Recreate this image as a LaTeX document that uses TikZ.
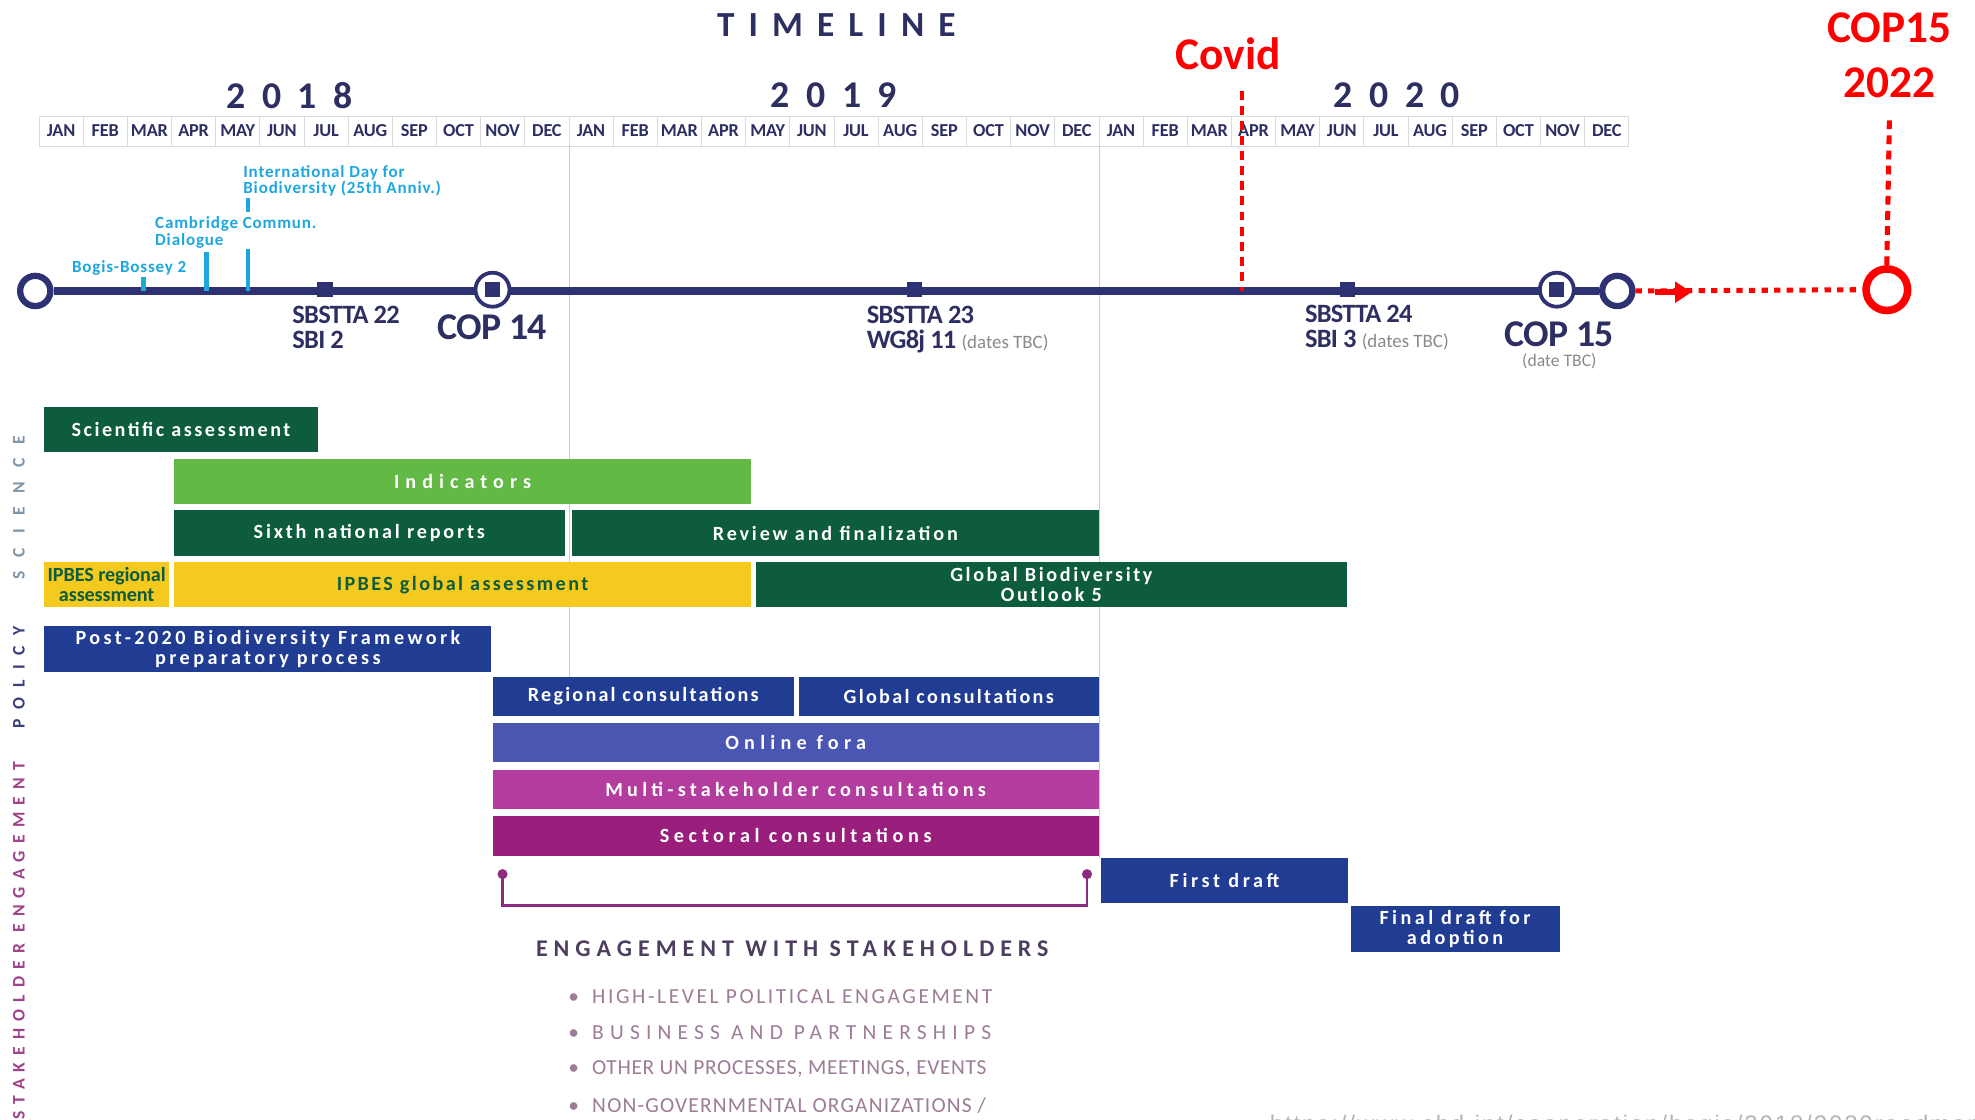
\documentclass[tikz,border=0pt]{standalone}
\usepackage{fontspec}
\setmainfont{Carlito}
\newfontfamily\urlfont{Liberation Sans}
\usetikzlibrary{arrows.meta}

\definecolor{navy}{HTML}{2E3272}
\definecolor{navytext}{HTML}{2D2F62}
\definecolor{cyanc}{HTML}{1EA7DE}
\definecolor{dgreen}{HTML}{0D5C3E}
\definecolor{lgreen}{HTML}{62B946}
\definecolor{yel}{HTML}{F4CA1E}
\definecolor{bblue}{HTML}{213C93}
\definecolor{fora}{HTML}{4B56B2}
\definecolor{multi}{HTML}{B33C9F}
\definecolor{sect}{HTML}{9A1F7C}
\definecolor{brk}{HTML}{8B2C80}
\definecolor{tealc}{HTML}{A8D8DB}
\definecolor{gridc}{HTML}{DADADA}
\definecolor{engh}{HTML}{4D3D5E}
\definecolor{bulletc}{HTML}{9C7C96}
\definecolor{scic}{HTML}{8095A8}
\definecolor{polc}{HTML}{3B3F7C}
\definecolor{stkc}{HTML}{A0418C}
\definecolor{redc}{HTML}{FF0000}
\definecolor{tbc}{HTML}{8A8A8A}
\definecolor{urlc}{HTML}{B5B5B5}

\newcommand\fsz[3]{\fontsize{#1}{#2}\selectfont\addfontfeatures{LetterSpace=#3}}
\newcommand\tlbox[7]{%
  \node[boxbase,#6,anchor=north west,minimum width={(#4-#2)*1pt},minimum height={(#5-#3)*1pt}] (#1) at (#2,#3) {#7};}

\tikzset{
  boxbase/.style={rectangle,inner sep=0pt,align=center,text=white,font=\bfseries\fsz{16}{16}{13}},
  ls/.style={font=\bfseries\fsz{16}{16}{#1}},
  dg/.style={fill=dgreen},
  lg/.style={fill=lgreen},
  yl/.style={fill=yel,text=dgreen},
  bb/.style={fill=bblue},
  fo/.style={fill=fora},
  mu/.style={fill=multi},
  se/.style={fill=sect},
  monthcell/.style={rectangle,draw=gridc,line width=0.6pt,minimum width=35.06pt,minimum height=24pt,inner sep=0pt,text=navytext,font=\bfseries\fsz{14.5}{14}{-1}},
  ring/.style={circle,draw=navy,line width=5pt,fill=white,minimum size=24pt,inner sep=0pt},
  cop/.style={circle,draw=navy,line width=3pt,fill=white,minimum size=27pt,inner sep=0pt},
  sq/.style={rectangle,fill=navy,minimum size=12pt,inner sep=0pt},
  tick/.style={cyanc,line width=3.5pt},
  cyanlab/.style={text=cyanc,inner sep=0pt,align=left,font=\bfseries\fsz{13.5}{13}{5}},
  evlab/.style={text=navytext,inner sep=0pt,align=left,font=\bfseries\fsz{21}{20}{-3}},
  coplab/.style={text=navytext,inner sep=0pt,font=\bfseries\fsz{30}{30}{-2}},
  redlab/.style={text=redc,inner sep=0pt,align=center,font=\bfseries\fsz{36}{44}{0}},
  reddot/.style={redc,line width=4pt,dash pattern=on 7pt off 5pt},
  vlab/.style={rotate=90,inner sep=0pt,font=\bfseries\fsz{14}{14}{#1}},
  bullet/.style={anchor=west,inner sep=0pt,text=bulletc,font=\fsz{17}{17}{#1}},
}
\newcommand\tbcf{\color{tbc}\mdseries\fsz{15}{15}{0}}
\newcommand\bul{\makebox[19pt][l]{\textbullet}}

\begin{document}
\begin{tikzpicture}[x=1pt,y=-1pt]
\useasboundingbox[fill=white] (0,0) rectangle (1568,889);

% title and years
\node[text=navytext,font=\bfseries\fsz{28}{28}{40}] (title) at (664,20) {TIMELINE};
\node[text=navytext,font=\bfseries\fsz{30}{30}{44}] (y18) at (230,76) {2018};
\node[text=navytext,font=\bfseries\fsz{30}{30}{44}] (y19) at (662,76) {2019};
\node[text=navytext,font=\bfseries\fsz{30}{30}{44}] (y20) at (1109,76) {2020};

% month grid
\foreach \m [count=\i] in {JAN,FEB,MAR,APR,MAY,JUN,JUL,AUG,SEP,OCT,NOV,DEC,JAN,FEB,MAR,APR,MAY,JUN,JUL,AUG,SEP,OCT,NOV,DEC,JAN,FEB,MAR,APR,MAY,JUN,JUL,AUG,SEP,OCT,NOV,DEC}
  \node[monthcell] (m\i) at ({31+(\i-0.5)*35.06},104) {\m};

% year dividers
\draw[tealc,line width=1.2pt] (m12.south east) -- ++(0,421);
\draw[tealc,line width=1.2pt] (m24.south east) -- ++(0,565);

% main timeline
\node[ring] (start) at (28,231) {};
\node[ring] (end) at (1284,231) {};
\draw[navy,line width=6.5pt] (start) -- (end);

% cyan events
\coordinate (bb) at (114,231);
\coordinate (cb) at (164,231);
\coordinate (id) at (197,231);
\coordinate (idu) at (197,157);
\draw[tick] (bb) -- ++(0,-11);
\draw[tick] (cb) -- ++(0,-31);
\draw[tick] (id) -- ++(0,-33);
\draw[tick] (idu) -- ++(0,11);
\node[cyanlab,anchor=west] (bbl) at (57,213) {Bogis-Bossey 2};
\node[cyanlab,anchor=north west] (cbl) at (123,172) {Cambridge Commun.\\Dialogue};
\node[cyanlab,anchor=north west] (idl) at (193,131) {International Day for\\Biodiversity (25th Anniv.)};

% meetings
\node[sq] (s22) at (258,230) {};
\node[sq] (s23) at (726,230) {};
\node[sq] (s24) at (1070,230) {};
\node[cop] (cop14) at (391,230) {};
\node[sq] (cop14s) at (cop14) {};
\node[cop] (cop15) at (1236,230) {};
\node[sq] (cop15s) at (cop15) {};

\node[evlab,anchor=north west] (l22) at (232,243) {SBSTTA 22\\SBI 2};
\node[evlab,anchor=north west] (l23) at (688,243) {SBSTTA 23\\WG8j 11 {\tbcf (dates TBC)}};
\node[evlab,anchor=north west] (l24) at (1036,242) {SBSTTA 24\\SBI 3 {\tbcf (dates TBC)}};
\node[coplab] (lc14) at (391,260) {COP 14};
\node[coplab] (lc15) at (1238,265) {COP 15};
\node[text=tbc,inner sep=0pt,font=\fsz{14}{14}{0}] (lc15d) at (1238,287) {(date TBC)};

% red annotations
\node[circle,draw=redc,line width=6pt,fill=white,minimum size=33pt,inner sep=0pt] (cop22) at (1498,230) {};
\draw[reddot,dash pattern=on 5pt off 5pt] (end.east) -- (cop22.west);
\coordinate (ra1) at (1314,232);
\coordinate (ra2) at (1343,232);
\draw[redc,line width=4.5pt,-{Triangle[length=13pt,width=16pt]}] (ra1) -- (ra2);
\coordinate (c22top) at (1500,95);
\draw[reddot] (cop22.north) -- (c22top);
\coordinate (cv1) at (986,72);
\coordinate (cv2) at (986,231);
\draw[reddot,line width=3.5pt] (cv1) -- (cv2);
\node[redlab] (covid) at (975,43) {Covid};
\node[redlab] (cop22l) at (1500,44) {COP15\\2022};

% science
\tlbox{sci}{35}{323}{252}{359}{dg,ls=12.5}{Scientific assessment}
\tlbox{ind}{138}{364}{596}{400}{lg,ls=30}{Indicators}
\tlbox{snr}{138}{405}{448}{441}{dg,ls=14}{Sixth national reports}
\tlbox{rev}{454}{405}{872}{441}{dg,ls=14}{Review and finalization}
\tlbox{ipr}{35}{446}{134}{482}{yl,ls=-0.5}{IPBES regional\\assessment}
\tlbox{ipg}{138}{446}{596}{482}{yl,ls=12}{IPBES global assessment}
\tlbox{gbo}{600}{446}{1069}{482}{dg,ls=13}{Global Biodiversity\\Outlook 5}
% policy
\tlbox{post}{35}{497}{390}{533}{bb,ls=17}{Post-2020 Biodiversity Framework\\preparatory process}
\tlbox{reg}{391}{537}{630}{568}{bb,ls=11}{Regional consultations}
\tlbox{glo}{634}{537}{872}{568}{bb,ls=11.5}{Global consultations}
\tlbox{onl}{391}{574}{872}{605}{fo,ls=26}{Online fora}
\tlbox{msc}{391}{611}{872}{642}{mu,ls=21}{Multi-stakeholder consultations}
\tlbox{sec}{391}{648}{872}{679}{se,ls=23}{Sectoral consultations}
\tlbox{fd}{874}{681}{1070}{717}{bb,ls=18}{First draft}
\tlbox{fin}{1072}{719}{1238}{756}{bb,ls=17}{Final draft for\\adoption}

% bracket
\coordinate (b1) at (399,694);
\coordinate (b2) at (863,694);
\draw[brk,line width=2pt] (b1) -- ++(0,25) -| (b2);
\fill[brk] (b1) circle (4pt);
\fill[brk] (b2) circle (4pt);

\node[text=engh,inner sep=0pt,font=\bfseries\fsz{19}{19}{25}] (eng) at (629,753) {ENGAGEMENT WITH STAKEHOLDERS};
\node[bullet=12] (bl1) at (451,791) {\bul HIGH-LEVEL POLITICAL ENGAGEMENT};
\node[bullet=29] (bl2) at (451,820) {\bul BUSINESS AND PARTNERSHIPS};
\node[bullet=3] (bl3) at (451,849) {\bul OTHER UN PROCESSES, MEETINGS, EVENTS};
\node[bullet=5.5] (bl4) at (451,878) {\bul NON-GOVERNMENTAL ORGANIZATIONS /};

% side labels
\node[vlab=78,text=scic] (vsci) at (15,403) {SCIENCE};
\node[vlab=57,text=polc] (vpol) at (15,538) {POLICY};
\node[vlab=40.5,text=stkc] (vstk) at (15,747) {STAKEHOLDER ENGAGEMENT};

% url (cut by the bottom edge, as in the source)
\begin{scope}
\clip (0,0) rectangle (1568,889);
\node[anchor=base west,inner sep=0pt,text=urlc,font=\urlfont\fontsize{19}{20}\selectfont\addfontfeatures{LetterSpace=8}] (url) at (1008,899) {https://www.cbd.int/cooperation/bogis/2018/2020roadmap};
\end{scope}
\end{tikzpicture}
\end{document}
